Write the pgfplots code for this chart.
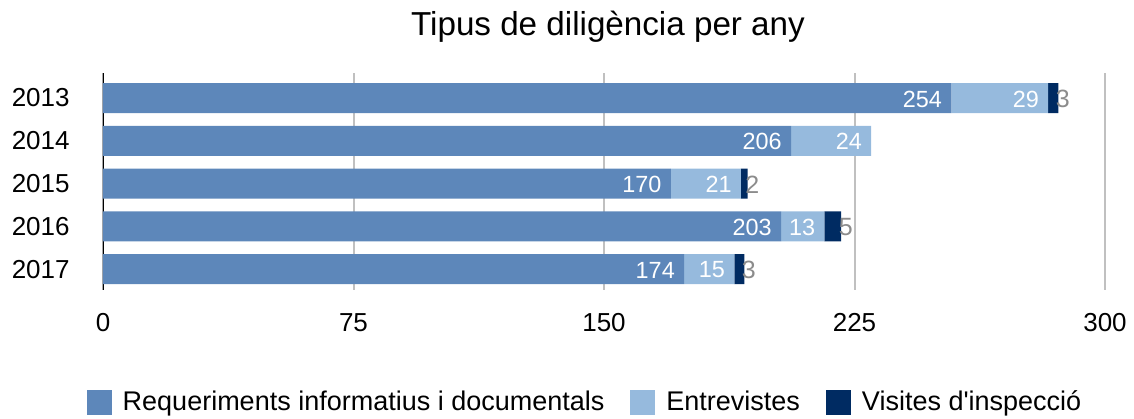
\documentclass[border=0pt]{standalone}
\usepackage{pgfplots}
\pgfplotsset{compat=1.18}
\usepackage{fontspec}
\setmainfont{Liberation Sans}[Ligatures=TeXOff]
\definecolor{cA}{HTML}{5D87BA}
\definecolor{cB}{HTML}{96BADD}
\definecolor{cC}{HTML}{002B62}
\definecolor{gridgray}{HTML}{C0C0C0}
\definecolor{lblgray}{HTML}{8C8C8C}
\pgfplotsset{
  common/.style={
    at={(0,0)}, anchor=south west,
    scale only axis, width=501pt, height=108.5pt,
    xmin=0, xmax=300, ymin=-0.585, ymax=4.49, y dir=reverse,
    /pgf/number format/assume math mode=true,
  }
}
\begin{document}
\begin{tikzpicture}
\path[use as bounding box] (-51.5pt,-64pt) rectangle (515.5pt,145pt);
\begin{axis}[
  common,
  xbar stacked, bar width=15pt,
  axis line style={draw=none},
  major tick length=0pt,
  xtick={0,75,150,225,300},
  ytick={0,1,2,3,4},
  yticklabels={2013,2014,2015,2016,2017},
  xmajorgrids, grid style={color=gridgray, line width=1pt},
  tick label style={font=\fontsize{13}{15}\selectfont},
  xticklabel style={anchor=base, yshift=-20.5pt},
  yticklabel style={anchor=east, inner xsep=0pt, xshift=-16.5pt},
  title={Tipus de diligència per any},
  title style={at={(0.5,1)}, anchor=base, yshift=13pt, xshift=2pt, font=\fontsize{16.6}{19}\selectfont},
  legend style={at={(0.5,0)}, anchor=center, yshift=-56pt, xshift=-9pt, draw=none, fill=none,
    legend columns=3, font=\fontsize{13.5}{15}\selectfont,
    /tikz/every even column/.append style={column sep=11pt},
    /tikz/every odd column/.append style={column sep=3.5pt}},
  legend cell align=left,
  legend image code/.code={\fill[#1] (0pt,-6.25pt) rectangle (12.5pt,6.25pt);},
]
\addplot[fill=cA, draw=none] coordinates {(254,0) (206,1) (170,2) (203,3) (174,4)};
\addplot[fill=cB, draw=none] coordinates {(29,0) (24,1) (21,2) (13,3) (15,4)};
\addplot[fill=cC, draw=none] coordinates {(3,0) (0,1) (2,2) (5,3) (3,4)};
\draw[black, line width=1.5pt] (axis cs:0,-0.585) -- (axis cs:0,4.49);
\legend{Requeriments informatius i documentals, Entrevistes, Visites d'inspecció}
\end{axis}
\begin{axis}[
  common, hide axis, clip=false,
  point meta=explicit,
  nodes near coords={\pgfmathprintnumber{\pgfplotspointmeta}},
]
\addplot[draw=none, mark=none, only marks,
  every node near coord/.style={text=white, anchor=east, inner sep=0pt, xshift=-4.5pt, yshift=-0.5pt, font=\fontsize{11.7}{13}\selectfont}]
  coordinates {(254,0)[254] (206,1)[206] (170,2)[170] (203,3)[203] (174,4)[174]
               (283,0)[29] (230,1)[24] (191,2)[21] (216,3)[13] (189,4)[15]};
\addplot[draw=none, mark=none, only marks,
  every node near coord/.style={text=lblgray, anchor=east, inner sep=0pt, xshift=6pt, yshift=-0.5pt, font=\fontsize{12.5}{14}\selectfont}]
  coordinates {(286,0)[3] (193,2)[2] (221,3)[5] (192,4)[3]};
\end{axis}
\end{tikzpicture}
\end{document}
